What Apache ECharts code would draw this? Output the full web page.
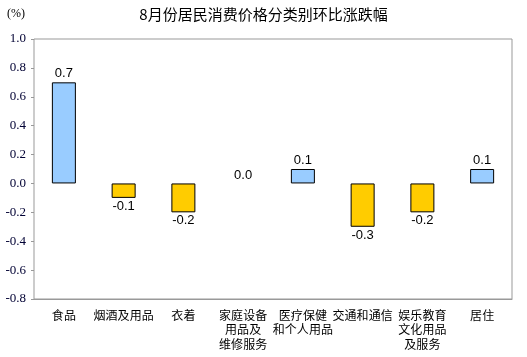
<!DOCTYPE html>
<html><head><meta charset="utf-8">
<script src="https://cdn.jsdelivr.net/npm/echarts@6/dist/echarts.min.js"></script>
<style>html,body{margin:0;padding:0;background:#fff}#c{width:527px;height:357px}</style>
</head><body><div id="c"></div>
<script>
const title = '8月份居民消费价格分类别环比涨跌幅';
const unitLabel = '(%)';
const categories = ['食品', '烟酒及用品', '衣着', '家庭设备\n用品及\n维修服务', '医疗保健\n和个人用品', '交通和通信', '娱乐教育\n文化用品\n及服务', '居住'];
const values = [0.7, -0.1, -0.2, 0.0, 0.1, -0.3, -0.2, 0.1];
const yMin = -0.8, yMax = 1.0, yStep = 0.2;

const chart = echarts.init(document.getElementById('c'));
chart.setOption({
  animation: false,
  title: {text: title, left: 'center', top: 2, textStyle: {fontSize: 15, fontWeight: 'normal', color: '#000', fontFamily: '"Noto Sans CJK SC", sans-serif'}},
  graphic: [{type: 'text', left: 7, top: 8, style: {text: unitLabel, fontSize: 12, fill: '#000', fontFamily: '"Liberation Serif", serif'}}],
  grid: {left: 34, right: 15, top: 39, bottom: 58, show: true, borderColor: '#999', borderWidth: 1, containLabel: false, outerBoundsMode: 'none'},
  xAxis: [{type: 'category', data: categories, position: 'bottom',
    axisLine: {show: false}, axisTick: {show: false},
    axisLabel: {interval: 0, margin: 9, color: '#000', fontSize: 12, lineHeight: 14.5, fontFamily: '"Noto Sans CJK SC", sans-serif', verticalAlign: 'top'}
  }, {type: 'category', data: categories, position: 'bottom',
    axisLine: {onZero: true, lineStyle: {color: '#999'}},
    axisTick: {show: false}, axisLabel: {show: false}
  }],
  yAxis: {type: 'value', min: yMin, max: yMax, interval: yStep,
    splitLine: {show: false}, axisLine: {show: false},
    axisTick: {show: true, length: 3, lineStyle: {color: '#999'}},
    axisLabel: {color: '#000033', fontSize: 13, fontFamily: '"Liberation Serif", serif', margin: 8, formatter: v => v.toFixed(1)}
  },
  series: [{type: 'bar', xAxisIndex: 0, data: values.map(v => ({value: v,
      itemStyle: {color: v > 0 ? '#99CCFF' : '#FFCC00', borderColor: '#000', borderWidth: v === 0 ? 0 : 1},
      label: {position: v < 0 ? 'bottom' : 'top'}})),
    barWidth: 24,
    label: {show: true, color: '#000', fontSize: 13, fontFamily: '"Liberation Sans", Arial, sans-serif', distance: 2, formatter: p => p.value.toFixed(1)}
  }]
});
</script></body></html>
